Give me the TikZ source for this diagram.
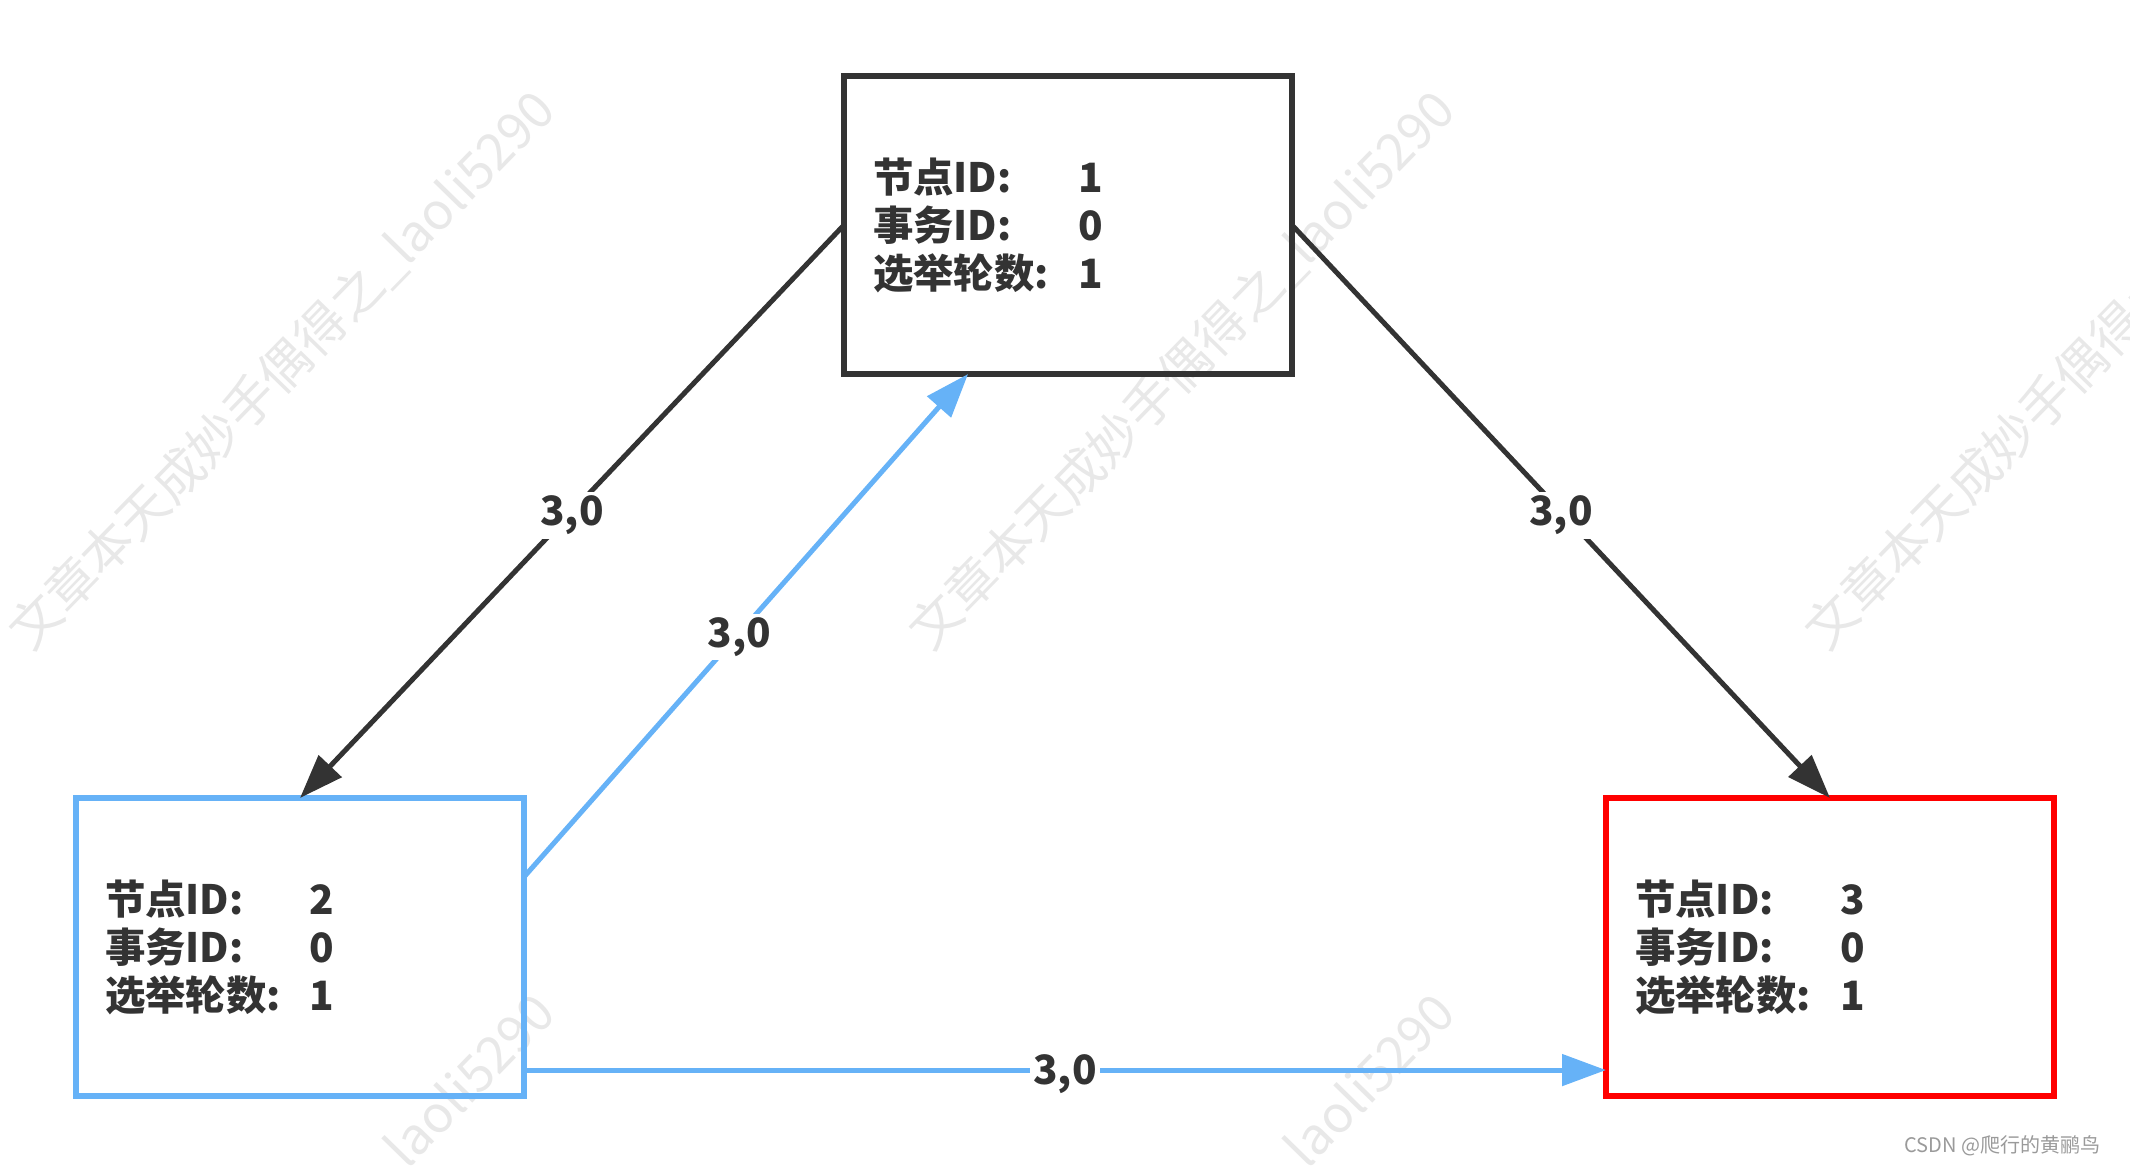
\documentclass[tikz,border=0pt]{standalone}
\usepackage{fontspec}
\setmainfont{Noto Sans CJK SC}
\usetikzlibrary{arrows.meta,calc,positioning}
\definecolor{nodegray}{HTML}{333333}
\definecolor{nodeblue}{HTML}{66B2F7}
\definecolor{nodered}{HTML}{FF0000}
\definecolor{marklight}{HTML}{E8E8E8}
\definecolor{csdngray}{HTML}{9A9A9A}
\newcommand{\infonodo}[3]{%
  \makebox[2.05cm][l]{节点ID:}#1\\
  \makebox[2.05cm][l]{事务ID:}#2\\
  \makebox[2.05cm][l]{选举轮数:}#3}
\tikzset{
  nodo/.style={
    draw=nodegray,
    line width=0.055cm,
    minimum width=4.48cm,
    minimum height=2.98cm,
    inner xsep=0.29cm,
    text width=3.9cm,
    outer sep=0pt,
    align=left,
    text=nodegray,
    font=\bfseries\fontsize{11.5}{13.66}\selectfont
  },
  etiqueta/.style={
    fill=white,
    inner sep=1pt,
    yshift=-0.04cm,
    text=nodegray,
    font=\bfseries\fontsize{11.5}{12}\selectfont
  },
  marca/.style={
    rotate=45.7,
    text=marklight,
    font=\fontsize{14.5}{15}\selectfont
  },
  arrow/.style={
    -{Triangle[length=0.44cm,width=0.31cm]},
    line width=0.05cm
  }
}

\begin{document}
\begin{tikzpicture}
\useasboundingbox (0,0) rectangle (21.30,-11.73);
% marcas de agua
\begin{scope}
\clip (0,0) rectangle (21.30,-11.73);
\foreach \x in {2.82,11.82,20.78} {
  \foreach \y in {-3.70,-12.73} {
    \node[marca] at (\x,\y) {文章本天成妙手偶得之\_laoli5290};
  }
}
\end{scope}
\node[nodo] (n1) at (10.68,-2.25) {\infonodo{1}{0}{1}};
\node[nodo, draw=nodeblue, below left=4.24cm and 3.2cm of n1] (n2) {\infonodo{2}{0}{1}};
\node[nodo, draw=nodered, right=10.82cm of n2] (n3) {\infonodo{3}{0}{1}};
\draw[arrow, nodegray] (n1.west) -- node[etiqueta] {3,0} (n2.north);
\draw[arrow, nodegray] (n1.east) -- node[etiqueta] {3,0} (n3.north);
\draw[arrow, nodeblue] ($(n2.north east)!0.265!(n2.south east)$) -- node[etiqueta, pos=0.485] {3,0} ($(n1.south west)!0.277!(n1.south east)$);
\draw[arrow, nodeblue] ($(n2.north east)!0.913!(n2.south east)$) -- node[etiqueta] {3,0} ($(n3.north west)!0.913!(n3.south west)$);
\node[anchor=east, text=csdngray, font=\fontsize{5.7}{6}\selectfont] (firma) at (21.13,-11.46) {CSDN @爬行的黄鹂鸟};
\end{tikzpicture}
\end{document}
